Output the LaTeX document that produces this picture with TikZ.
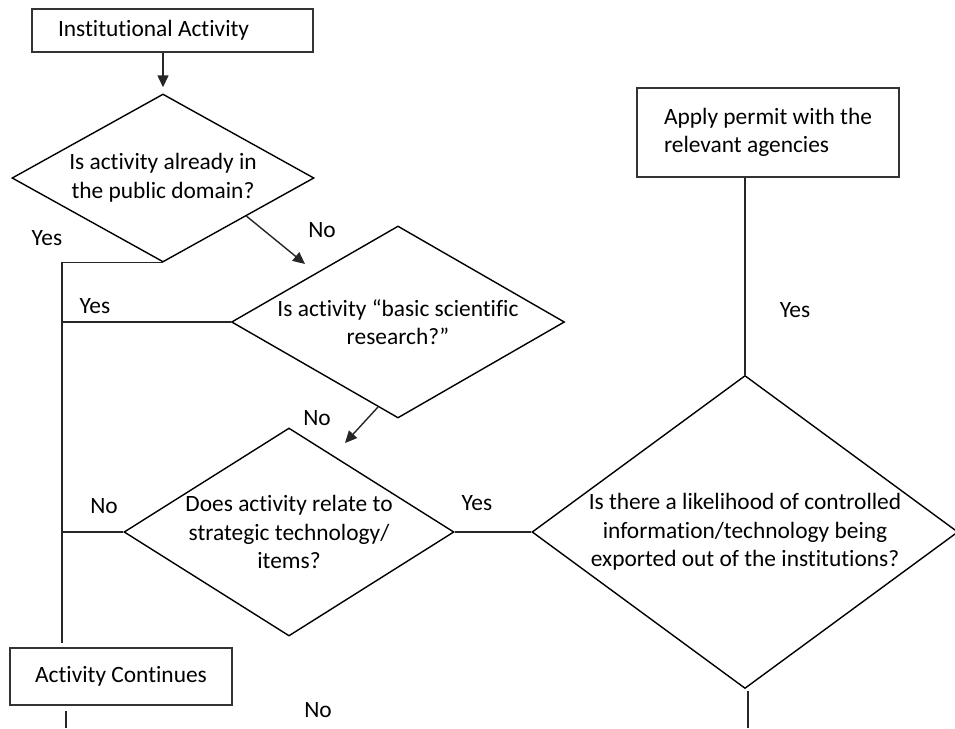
\documentclass[tikz,border=0pt]{standalone}
\usepackage{fontspec}
\setmainfont{Carlito}[Ligatures={TeX,NoCommon}]
\usepackage{tikz}
\usetikzlibrary{calc}
\usetikzlibrary{arrows.meta}
\usetikzlibrary{positioning,shapes.geometric}

\begin{document}
\begin{tikzpicture}[
x=1pt, y=-1pt,
MyBoxes/.style={draw=black!80,line width=1.5pt,rectangle,inner sep=0pt},
MyDecisions/.style={draw=black,line width=1.4pt,diamond,inner sep=0pt,align=flush center},
Links/.style={draw=black!85,line width=1.4pt},
MyArrows/.style={Links,-{Triangle[length=12pt,width=11pt]}},
Answers/.style={inner sep=0pt},
every node/.style={font=\fontsize{23.4}{28.5}\selectfont}
]
\useasboundingbox (0,0) rectangle (955,728);

% boxes
\node[MyBoxes,minimum height=43pt,text width=229pt,inner xsep=26pt,align=flush left] (Start) at (172.5,30.5) {Institutional Activity};
\node[MyBoxes,minimum width=262pt,minimum height=89pt,align=flush left] (Permit) at (768,132.5) {Apply permit with the\\relevant agencies};
\node[MyBoxes,minimum width=222pt,minimum height=57pt] (Continues) at (121,676.5) {Activity Continues};

% questions
\node[MyDecisions,minimum width=302pt,minimum height=168pt,shape aspect=1.8] (DomainQ) at (163,178) {Is activity already in\\the public domain?};
\node[MyDecisions,minimum width=333pt,minimum height=192pt,shape aspect=1.73] (BasicQ) at (398,322) {Is activity “basic scientific\\research?”};
\node[MyDecisions,minimum width=330pt,minimum height=208pt,shape aspect=1.59] (StrategicQ) at (289,532) {Does activity relate to\\strategic technology/\\items?};
\node[MyDecisions,minimum width=426pt,minimum height=313pt,shape aspect=1.36] (ExportQ) at (745,532) {Is there a likelihood of controlled\\information/technology being\\exported out of the institutions?};

\coordinate (Rail) at (62,643);
\coordinate (NoTipA) at (305,264);
\coordinate (NoTipB) at (345,443);
\coordinate (ExitL) at (66,728);
\coordinate (ExitR) at (748,728);

\draw[MyArrows,shorten >=6pt] (Start.south -| DomainQ.north) -- (DomainQ.north);
\draw[MyArrows] ($(DomainQ.east)!0.45!(DomainQ.south)$) -- (NoTipA);
\draw[Links] (DomainQ.south) -| (Rail);
\draw[Links] (BasicQ.west) -- (BasicQ.west -| Rail);
\draw[MyArrows] ($(BasicQ.south)!0.12!(BasicQ.west)$) -- (NoTipB);
\draw[Links] (StrategicQ.west) -- (StrategicQ.west -| Rail);
\draw[Links] (StrategicQ.east) -- (ExportQ.west);
\draw[Links] (ExportQ.north) -- (ExportQ.north |- Permit.south);
\draw[Links,shorten <=5pt] (ExitL |- Continues.south) -- (ExitL);
\draw[Links,shorten <=2pt] (ExitR |- ExportQ.south) -- (ExitR);

% answers
\node[Answers] (YesDomain) at (47,238) {Yes};
\node[Answers] (NoDomain) at (322,230) {No};
\node[Answers] (YesBasic) at (95,306) {Yes};
\node[Answers] (NoBasic) at (317,418) {No};
\node[Answers] (NoStrategic) at (104,506) {No};
\node[Answers] (YesStrategic) at (477,503) {Yes};
\node[Answers] (YesExport) at (795,310) {Yes};
\node[Answers] (NoExport) at (318,710) {No};

\end{tikzpicture}
\end{document}
